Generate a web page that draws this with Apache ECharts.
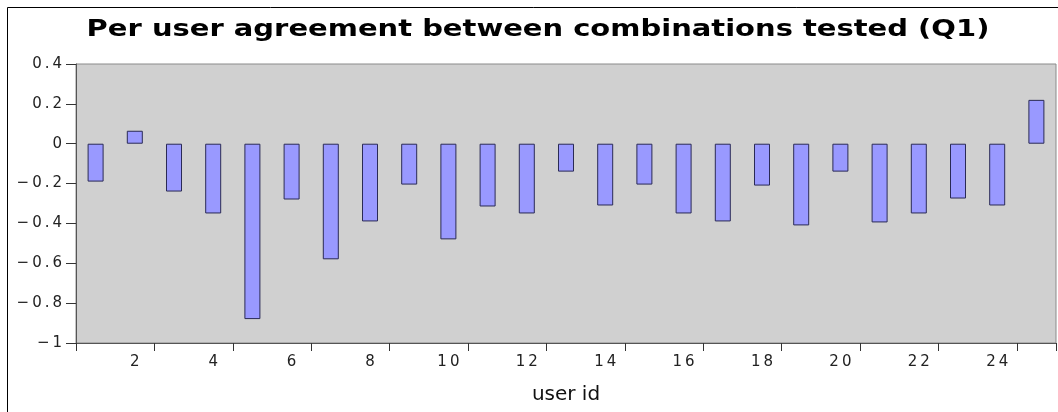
<!DOCTYPE html>
<html><head><meta charset="utf-8">
<script src="https://cdn.jsdelivr.net/npm/echarts@6/dist/echarts.min.js"></script>
<style>html,body{margin:0;padding:0;background:#fff;}#c{width:1058px;height:412px;}</style>
</head><body><div id="c"></div>
<script>
const titleText = "Per user agreement between combinations tested (Q1)";
const xAxisName = "user id";
const userIds = ["1","2","3","4","5","6","7","8","9","10","11","12","13","14","15","16","17","18","19","20","21","22","23","24","25"];
const agreement = [-0.19, 0.065, -0.24, -0.35, -0.88, -0.28, -0.58, -0.39, -0.205, -0.48, -0.315, -0.35, -0.14, -0.31, -0.205, -0.35, -0.39, -0.21, -0.41, -0.14, -0.395, -0.35, -0.275, -0.31, 0.22];
const yTicks = {min: -1, max: 0.4, interval: 0.2};

// widen letter spacing by inserting narrow spaces between characters
function spaced(s, sp) { return Array.from(s).join(sp); }

const chart = echarts.init(document.getElementById('c'));
chart.setOption({
  animation: false,
  backgroundColor: '#ffffff',
  graphic: [{
    type: 'rect', shape: {x: 7.5, y: 7.5, width: 1200, height: 600},
    style: {fill: 'none', stroke: '#000', lineWidth: 1}, silent: true, z: 100
  }, {
    type: 'text', x: 538, y: 30, scaleX: 1.26, silent: true,
    style: {text: titleText, align: 'center', verticalAlign: 'middle',
      font: 'bold 23px "DejaVu Sans"', fill: '#000'}
  }],
  grid: {left: 76, top: 64, right: 2, bottom: 69, show: true, backgroundColor: '#d0d0d0', borderColor: '#8a8a8a', borderWidth: 1},
  xAxis: {
    type: 'category', data: userIds, boundaryGap: true,
    name: xAxisName, nameLocation: 'middle', nameGap: 42,
    nameTextStyle: {fontFamily: 'DejaVu Sans', fontSize: 20, color: '#111'},
    axisLine: {onZero: false, lineStyle: {color: '#555', width: 1}},
    axisTick: {show: true, length: 8, interval: function(i){return i % 2 === 0;}, lineStyle: {color: '#333'}},
    axisLabel: {interval: function(i){return i % 2 === 1;}, margin: 12, fontFamily: 'DejaVu Sans', fontSize: 15, color: '#222',
      formatter: function(v){ return spaced(v, '\u2009'); }},
    splitLine: {show: false}
  },
  yAxis: {
    type: 'value', min: yTicks.min, max: yTicks.max, interval: yTicks.interval,
    axisLine: {show: true, lineStyle: {color: '#555'}},
    axisTick: {show: true, length: 10, lineStyle: {color: '#333'}},
    axisLabel: {margin: 14, fontFamily: 'DejaVu Sans', fontSize: 15, color: '#222',
      formatter: function(v){ var s = Math.round(v*10)/10; var t = (s < 0 ? '\u2212' + String(-s) : String(s)); return spaced(t, '\u2009'); }},
    splitLine: {show: false}
  },
  series: [{
    type: 'bar', data: agreement, barWidth: 16,
    itemStyle: {color: '#9999ff', borderColor: '#2a2a55', borderWidth: 1}
  }]
});
</script></body></html>
